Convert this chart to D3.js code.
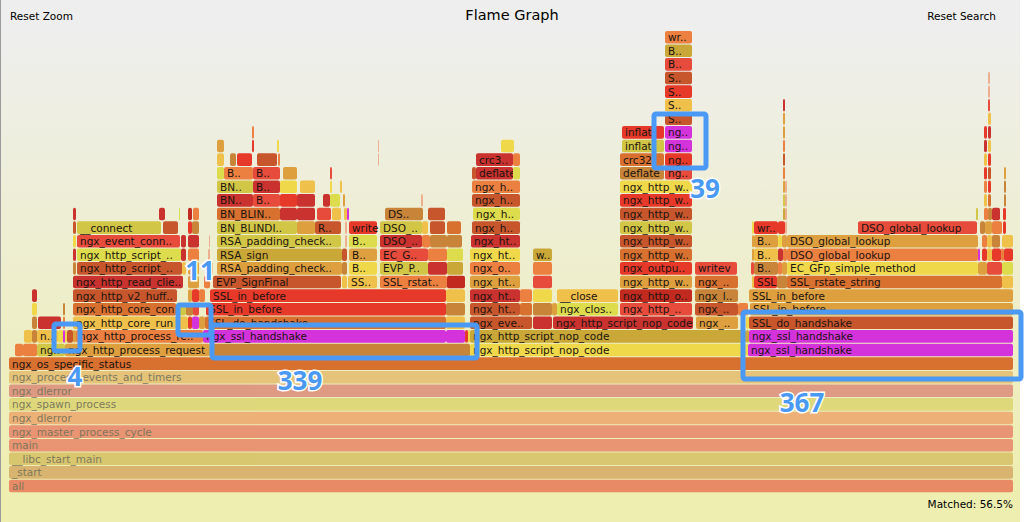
<!doctype html>
<html lang="en">
<head>
	<meta charset="UTF-8">
	<title>Flame Graph</title>
	<script src="https://d3js.org/d3.v7.min.js"></script>
	<style>
		html, body { margin: 0; padding: 0; background: #fff; }
		svg { display: block; }
		text { font-family: "DejaVu Sans", Verdana, sans-serif; }
	</style>
</head>
<body>
	<div id="chart"></div>
	<script>
		// every frame is [first sample, sample count, label, tint]
		const row0 = [[0, 1004, 'all', 'red']]
		const row1 = [[0, 1004, '_start', 'brown']]
		const row2 = [[0, 1004, '__libc_start_main', 'ochre']]
		const row3 = [[0, 1004, 'main', 'coral']]
		const row4 = [[0, 1004, 'ngx_master_process_cycle', 'coral']]
		const row5 = [[0, 1004, 'ngx_dlerror', 'orange']]
		const row6 = [[0, 1004, 'ngx_spawn_process', 'olive']]
		const row7 = [[0, 1004, 'ngx_dlerror', 'rose']]
		const row8 = [[0, 1004, 'ngx_process_events_and_timers', 'tan']]
		const row9 = [[0, 1004, 'ngx_os_specific_status', 'dorange']]
		const row10 = [[6, 8, '', 'orange'], [14, 14, '', 'orange'], [28, 28, 'ng..', 'olive'], [56, 145, 'ngx_http_process_request', 'tan'],
			[201, 260, '', 'brown'], [461, 276, 'ngx_http_script_nop_code', 'yellow'], [737, 2, '', 'yellow'], [739, 265, 'ngx_ssl_handshake', 'magenta']]
		const row11 = [[15, 8, '', 'amber'], [23, 5, '', 'brown'], [28, 21, 'n..', 'amber'], [49, 5, '', 'yellow'], [54, 2, '', 'magenta'], [56, 2, '', 'yellow'],
			[58, 6, '', 'rust'], [64, 3, '', 'tan'], [67, 127, 'ngx_http_process_re..', 'orange'], [194, 243, 'ngx_ssl_handshake', 'magenta'], [437, 19, '', 'magenta'],
			[456, 3, '', 'red'], [459, 2, '', 'yellow'], [461, 276, 'ngx_http_script_nop_code', 'ochre'], [737, 3, '', 'ochre'], [740, 264, 'ngx_ssl_handshake', 'magenta']]
		const row12 = [[23, 5, '', 'brown'], [29, 23, '', 'crimson'], [54, 2, '', 'orange'], [64, 103, 'ngx_http_core_run', 'amber'], [167, 12, '', 'amber'], [179, 4, '', 'red'],
			[183, 7, '', 'magenta'], [190, 6, '', 'tan'], [196, 241, 'SSL_do_handshake', 'dorange'], [437, 19, '', 'amber'], [461, 62, 'ngx_eve..', 'rust'],
			[524, 19, '', 'crimson'], [544, 140, 'ngx_http_script_nop_code', 'crimson'], [687, 42, 'ngx_..', 'tan'], [737, 3, '', 'yellow'], [740, 264, 'SSL_do_handshake', 'rust']]
		const row13 = [[23, 5, '', 'yellow'], [54, 2, '', 'brown'], [64, 103, 'ngx_http_core_con', 'dorange'], [167, 10, '', 'olive'], [177, 7, '', 'brown'], [184, 6, '', 'coral'],
			[197, 240, 'SSL_in_before', 'red'], [437, 19, '', 'brown'], [461, 50, 'ngx_ht..', 'rust'], [511, 12, '', 'dorange'], [524, 19, '', 'brown'], [543, 5, '', 'tan'],
			[548, 61, 'ngx_clos..', 'lime'], [611, 72, 'ngx_http_..', 'coral'], [686, 43, 'ngx_..', 'rust'], [729, 10, '', 'orange'], [741, 263, 'SSL_in_before', 'tan']]
		const row14 = [[23, 5, '', 'crimson'], [64, 104, 'ngx_http_v2_huff..', 'rust'], [179, 4, '', 'tan'], [183, 7, '', 'red'], [190, 6, '', 'orange'],
			[201, 236, 'SSL_in_before', 'red'], [437, 19, '', 'amber'], [461, 50, 'ngx_ht..', 'crimson'], [511, 12, '', 'orange'], [524, 19, '', 'yellow'],
			[548, 61, '__close', 'amber'], [611, 72, 'ngx_http_o..', 'dred'], [686, 43, 'ngx_l..', 'brown'], [740, 264, 'SSL_in_before', 'tan']]
		const row15 = [[64, 110, 'ngx_http_read_clie..', 'crimson'], [179, 11, '', 'tan'], [195, 6, '', 'orange'], [204, 128, 'EVP_SignFinal', 'rust'], [333, 5, '', 'amber'],
			[339, 29, 'SS..', 'amber'], [371, 67, 'SSL_rstat..', 'orange'], [438, 18, '', 'dred'], [461, 50, 'ngx_ht..', 'tan'], [524, 19, '', 'coral'],
			[611, 72, 'ngx_http_w..', 'tan'], [686, 43, 'ngx_..', 'dorange'], [743, 2, '', 'amber'], [745, 23, 'SSL..', 'red'], [768, 10, '', 'brown'],
			[778, 215, 'SSL_rstate_string', 'dorange'], [993, 11, '', 'amber']]
		const row16 = [[64, 3, '', 'brown'], [68, 105, 'ngx_http_script_..', 'rust'], [173, 4, '', 'amber'], [179, 11, '', 'tan'], [199, 5, '', 'salmon'],
			[208, 125, 'RSA_padding_check..', 'tan'], [333, 5, '', 'brown'], [340, 28, 'B..', 'yellow'], [371, 48, 'EVP_P..', 'olive'], [419, 19, '', 'crimson'], [438, 16, '', 'ochre'],
			[461, 50, 'ngx_o..', 'orange'], [524, 19, '', 'orange'], [611, 72, 'ngx_outpu..', 'red'], [686, 42, 'writev', 'coral'],
			[742, 3, '', 'coral'], [745, 24, 'B..', 'brown'], [769, 4, '', 'orange'], [773, 5, '', 'tan'], [778, 191, 'EC_GFp_simple_method', 'yellow'], [969, 9, '', 'tan'],
			[978, 15, '', 'coral'], [993, 11, '', 'lime']]
		const row17 = [[64, 3, '', 'crimson'], [68, 104, 'ngx_http_script_..', 'lime'], [172, 5, '', 'crimson'], [179, 11, '', 'orange'], [199, 2, '', 'salmon'],
			[208, 125, 'RSA_sign', 'ochre'], [333, 5, '', 'rust'], [340, 28, 'B..', 'tan'], [371, 48, 'EC_G..', 'coral'], [419, 19, '', 'orange'], [438, 16, '', 'lime'],
			[461, 50, 'ngx_ht..', 'yellow'], [524, 19, 'w..', 'ochre'], [611, 72, 'ngx_http_w..', 'dorange'], [743, 2, '', 'tan'], [745, 24, 'B..', 'amber'], [769, 5, '', 'crimson'],
			[774, 4, '', 'orange'], [778, 191, 'DSO_global_lookup', 'orange'], [969, 2, '', 'magenta'], [973, 5, '', 'red'], [978, 5, '', 'amber'], [983, 9, '', 'red'],
			[992, 3, '', 'orange'], [995, 9, '', 'red']]
		const row18 = [[64, 3, '', 'yellow'], [68, 103, 'ngx_event_conn..', 'coral'], [172, 5, '', 'crimson'], [179, 11, '', 'crimson'], [200, 1, '', 'salmon'],
			[208, 124, 'RSA_padding_check..', 'olive'], [336, 2, '', 'salmon'], [340, 28, 'B..', 'lime'], [371, 42, 'DSO_..', 'crimson'], [413, 8, '', 'orange'], [421, 17, '', 'brown'],
			[438, 15, '', 'brown'], [462, 49, 'ngx_ht..', 'crimson'], [611, 72, 'ngx_http_w..', 'rust'], [743, 2, '', 'tan'], [745, 24, 'B..', 'tan'], [769, 4, '', 'yellow'], [773, 5, '', 'tan'],
			[778, 191, 'DSO_global_lookup', 'tan'], [973, 5, '', 'orange'], [978, 5, '', 'amber'], [983, 8, '', 'brown'], [993, 11, '', 'amber']]
		const row19 = [[64, 3, '', 'rust'], [68, 84, '__connect', 'olive'], [154, 15, '', 'rust'], [179, 4, '', 'red'], [183, 7, '', 'brown'], [208, 80, 'BN_BLINDI..', 'olive'],
			[288, 18, '', 'tan'], [306, 26, 'R..', 'rust'], [336, 2, '', 'salmon'], [340, 28, 'write', 'red'], [371, 42, 'DSO_..', 'olive'], [413, 6, '', 'amber'], [421, 15, '', 'rust'],
			[438, 14, '', 'dorange'], [463, 48, 'ngx_h..', 'rust'], [611, 72, 'ngx_http_w..', 'olive'], [743, 2, '', 'yellow'], [745, 24, 'wr..', 'red'], [769, 7, '', 'red'], [776, 2, '', 'salmon'],
			[849, 119, 'DSO_global_lookup', 'coral'], [971, 5, '', 'brown'], [976, 7, '', 'tan'], [983, 10, '', 'orange'], [994, 3, '', 'red']]
		const row20 = [[64, 3, '', 'crimson'], [150, 6, '', 'crimson'], [170, 1, '', 'lime'], [179, 4, '', 'dred'], [184, 6, '', 'orange'], [208, 63, 'BN_BLIN..', 'dorange'],
			[271, 17, '', 'crimson'], [288, 18, '', 'crimson'], [308, 14, '', 'coral'], [323, 9, '', 'amber'], [335, 3, '', 'amber'], [338, 2, '', 'magenta'], [376, 38, 'DS..', 'brown'],
			[419, 17, '', 'rust'], [464, 47, 'ngx_h..', 'lime'], [611, 72, 'ngx_http_w..', 'rust'], [774, 2, '', 'ochre'], [776, 2, '', 'salmon'], [967, 2, '', 'olive'],
			[975, 4, '', 'orange'], [979, 4, '', 'brown'], [983, 8, '', 'crimson'], [994, 3, '', 'red']]
		const row21 = [[208, 36, 'BN..', 'crimson'], [244, 27, 'B..', 'coral'], [271, 17, '', 'red'], [288, 18, '', 'crimson'], [314, 7, '', 'crimson'], [321, 10, '', 'lime'],
			[334, 2, '', 'tan'], [412, 2, '', 'salmon'], [463, 48, 'ngx_h..', 'rust'], [611, 72, 'ngx_http_w..', 'red'], [774, 2, '', 'olive'], [776, 2, '', 'salmon'],
			[975, 3, '', 'amber'], [979, 3, '', 'dorange'], [995, 2, '', 'brown']]
		const row22 = [[208, 36, 'BN..', 'olive'], [244, 27, 'B..', 'crimson'], [271, 17, '', 'yellow'], [291, 15, '', 'amber'], [321, 2, '', 'yellow'], [331, 2, '', 'amber'],
			[463, 48, 'ngx_h..', 'orange'], [611, 72, 'ngx_http_w..', 'yellow'], [774, 2, '', 'tan'], [776, 2, '', 'salmon'], [975, 3, '', 'orange'], [979, 3, '', 'red'], [995, 2, '', 'brown']]
		const row23 = [[208, 7, '', 'lime'], [215, 29, 'B..', 'orange'], [244, 27, 'B..', 'coral'], [274, 14, '', 'tan'], [321, 2, '', 'coral'], [463, 4, '', 'rust'], [467, 37, 'deflate', 'crimson'],
			[504, 7, '', 'lime'], [611, 44, 'deflate', 'brown'], [656, 27, 'ng..', 'coral'], [774, 2, '', 'orange'], [975, 3, '', 'red'], [979, 3, '', 'rust'], [995, 2, '', 'tan']]
		const row24 = [[208, 7, '', 'amber'], [221, 6, '', 'brown'], [228, 15, '', 'red'], [248, 20, '', 'rust'], [269, 2, '', 'orange'], [369, 1, '', 'salmon'],
			[467, 37, 'crc3..', 'crimson'], [504, 7, '', 'orange'], [611, 44, 'crc32', 'dorange'], [656, 27, 'ng..', 'red'], [774, 2, '', 'rust'], [975, 3, '', 'amber'], [979, 3, '', 'red']]
		const row25 = [[208, 7, '', 'tan'], [243, 2, '', 'red'], [268, 2, '', 'yellow'], [369, 1, '', 'salmon'], [492, 13, '', 'yellow'], [613, 42, 'inflat', 'olive'], [656, 27, 'ng..', 'magenta'],
			[774, 2, '', 'orange'], [975, 3, '', 'crimson'], [979, 3, '', 'amber']]
		const row26 = [[243, 2, '', 'orange'], [613, 42, 'inflat', 'red'], [656, 27, 'ng..', 'magenta'], [774, 2, '', 'tan'], [975, 3, '', 'red'], [979, 3, '', 'crimson']]
		const row27 = [[656, 27, 'S..', 'rust'], [774, 2, '', 'tan'], [979, 3, '', 'amber']]
		const row28 = [[656, 27, 'S..', 'amber'], [774, 2, '', 'crimson'], [979, 2, '', 'coral']]
		const row29 = [[656, 27, 'S..', 'red'], [979, 2, '', 'salmon']]
		const row30 = [[656, 27, 'S..', 'rust'], [979, 2, '', 'salmon']]
		const row31 = [[656, 27, 'B..', 'coral']]
		const row32 = [[656, 27, 'B..', 'ochre']]
		const row33 = [[656, 27, 'wr..', 'orange']]

		const stackRows = [row0, row1, row2, row3, row4, row5, row6, row7, row8, row9, row10, row11, row12, row13, row14, row15, row16,
			row17, row18, row19, row20, row21, row22, row23, row24, row25, row26, row27, row28, row29, row30, row31, row32, row33]

		const tintNames = ['red', 'crimson', 'dred', 'coral', 'rose', 'rust', 'dorange', 'orange', 'brown', 'tan', 'ochre', 'amber', 'yellow', 'lime', 'olive', 'salmon', 'magenta']
		const tintColors = ['#e6392a', '#c9322e', '#c22a20', '#e64b3c', '#d15552', '#c8562c', '#d87030', '#ec8040', '#c8853a', '#dea03f', '#c9a838', '#efc04a', '#efd94a', '#dcdc4c', '#d2c646', '#ecb090', '#d433dc']

		const calloutCounts = ['4', '11', '339', '39', '367']
		const totalSamples = 1004
		const matched = 'Matched: 56.5%'

		var w = 1024
		var h = 522

		var svg = d3.select('#chart').append('svg')
			.attr('width', w)
			.attr('height', h)

		var x = d3.scaleLinear().domain([0, totalSamples]).range([9, 1013])
		var y = d3.scaleLinear().domain([0, stackRows.length - 1]).range([486, 37.2])
		var tint = d3.scaleOrdinal().domain(tintNames).range(tintColors)

		var frames = stackRows.flatMap((row, level) => row.map(f => ({ level: level, start: f[0], size: f[1], label: f[2], tint: f[3] })))

		draw_bg()
		draw_frames()
		draw_callouts()

		function draw_bg() {
			var grad = svg.append('defs').append('linearGradient')
				.attr('id', 'bg').attr('x1', 0).attr('x2', 0).attr('y1', 0).attr('y2', 1)
			grad.append('stop').attr('offset', '5%').attr('stop-color', '#eeeeee')
			grad.append('stop').attr('offset', '95%').attr('stop-color', '#eeeeb0')

			svg.append('rect').attr('x', 1).attr('width', 1019).attr('height', h).attr('fill', 'url(#bg)')
			svg.append('rect').attr('width', 1).attr('height', h).attr('fill', '#9a9a9a')

			svg.append('text').attr('x', 512).attr('y', 20).attr('text-anchor', 'middle')
				.style('font-size', '14.5px').text('Flame Graph')
			svg.append('text').attr('x', 10).attr('y', 20).style('font-size', '10.5px').text('Reset Zoom')
			svg.append('text').attr('x', 996).attr('y', 20).attr('text-anchor', 'end').style('font-size', '10.5px').text('Reset Search')
			svg.append('text').attr('x', 1013).attr('y', 508).attr('text-anchor', 'end').style('font-size', '10.5px').text(matched)
		}

		function draw_frames() {
			var g = svg.selectAll('g.frame').data(frames).enter().append('g')
				.attr('class', 'frame')
				// the rows under the process root are dimmed in the search view
				.attr('opacity', d => d.level < 9 ? 0.55 : 1)

			g.append('rect')
				.attr('x', d => x(d.start))
				.attr('y', d => y(d.level) - 6.3)
				.attr('width', d => x(d.start + d.size) - x(d.start))
				.attr('height', 12.6)
				.attr('rx', 2)
				.attr('fill', d => tint(d.tint))

			g.filter(d => d.label).append('text')
				.attr('x', d => x(d.start) + 3)
				.attr('y', d => y(d.level) + 4)
				.style('font-size', '10.5px')
				.attr('fill', '#1c1410')
				.text(d => d.label)
		}

		function draw_callouts() {
			var boxes = [[54, 324, 80, 351], [178, 305, 211, 335], [212, 325, 477, 358], [654, 114, 706, 168], [743, 312, 1021, 379]]
			var spots = [[75, 386], [200, 280], [300, 390], [705, 198], [802, 412]]

			svg.selectAll('rect.callout').data(boxes).enter().append('rect')
				.attr('class', 'callout')
				.attr('x', d => d[0])
				.attr('y', d => d[1])
				.attr('width', d => d[2] - d[0])
				.attr('height', d => d[3] - d[1])
				.attr('rx', 2)
				.attr('fill', 'none')
				.attr('stroke', '#4a9af5')
				.attr('stroke-width', 5)

			svg.selectAll('text.callout').data(calloutCounts).enter().append('text')
				.attr('class', 'callout')
				.attr('x', (d, i) => spots[i][0])
				.attr('y', (d, i) => spots[i][1])
				.attr('text-anchor', 'middle')
				.attr('fill', '#4a9af5')
				.attr('stroke', '#fff')
				.attr('stroke-width', 3)
				.attr('paint-order', 'stroke')
				.style('font-family', '"Open Sans", sans-serif')
				.style('font-weight', 700)
				.style('font-size', '26px')
				.text(d => d)
		}
	</script>
</body>
</html>
